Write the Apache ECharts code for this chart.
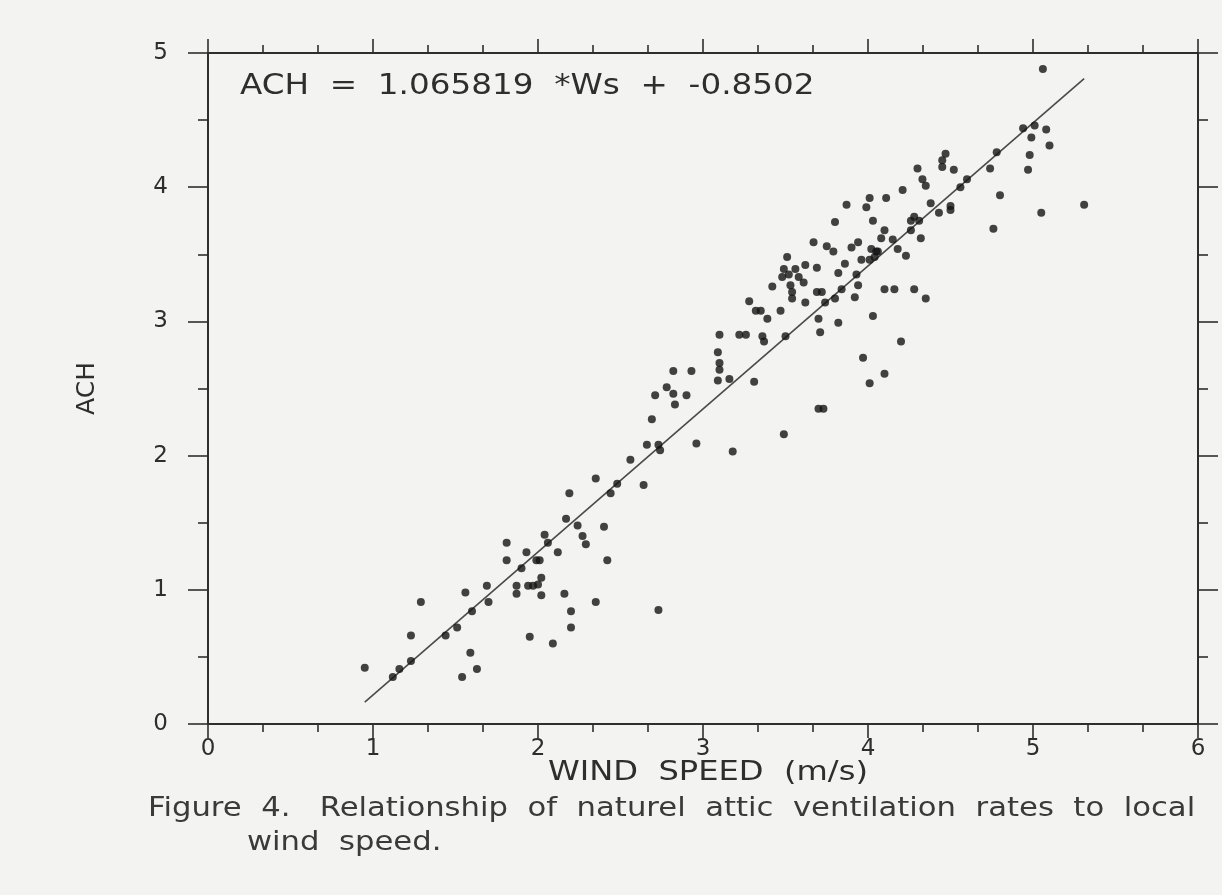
<!DOCTYPE html>
<html>
<head>
<meta charset="utf-8">
<script src="https://cdn.jsdelivr.net/npm/echarts@6/dist/echarts.min.js"></script>
<style>
  html, body { margin: 0; padding: 0; background: #f3f3f1; }
  #chart { width: 1222px; height: 895px; }
</style>
</head>
<body>
<div id="chart"></div>
<script>
// ---- Data ----
const windSpeed = [
  0.95,1.12,1.16,1.23,1.23,1.29,1.44,1.51,1.60,1.56,1.54,1.59,1.63,1.70,1.69,1.81,1.81,1.87,1.87,1.90,
  1.93,1.94,1.97,2.00,2.02,2.02,1.99,2.01,1.95,2.04,2.06,2.12,2.09,2.16,2.20,2.20,2.17,2.19,2.24,2.27,
  2.29,2.35,2.40,2.42,2.44,2.48,2.35,
  2.64,2.56,2.66,2.73,2.74,2.69,2.71,2.78,2.82,2.83,2.90,2.82,2.93,2.96,3.09,3.10,3.10,3.09,3.16,3.10,
  3.22,3.26,3.36,3.37,3.31,3.18,3.49,3.50,3.70,3.73,3.71,3.97,4.01,4.10,4.20,
  4.03,3.82,3.70,3.62,3.74,3.80,3.69,3.72,3.92,3.94,3.84,3.61,3.58,4.10,4.16,4.28,4.35,3.62,3.69,3.82,
  3.86,3.93,3.96,4.01,4.04,4.05,4.02,3.75,3.79,3.67,3.90,3.94,4.06,4.08,4.10,4.15,4.18,4.23,4.32,4.26,
  4.28,4.31,4.26,4.03,3.80,3.87,3.99,4.01,4.11,4.21,4.30,4.33,4.35,4.38,4.43,4.50,4.50,4.45,4.45,4.52,
  4.47,4.56,4.60,4.74,4.80,4.76,4.97,5.05,5.31,
  5.06,4.94,5.01,5.08,4.99,5.10,4.98,4.78,
  3.51,3.49,3.56,3.48,3.52,3.42,3.53,3.54,3.54,3.28,3.32,3.35,3.39,3.47,
  2.73
];
const achValues = [
  0.42,0.35,0.41,0.47,0.66,0.91,0.66,0.72,0.84,0.98,0.35,0.53,0.41,0.91,1.03,1.35,1.22,1.03,0.97,1.16,
  1.28,1.03,1.03,1.04,1.09,0.96,1.22,1.22,0.65,1.41,1.35,1.28,0.60,0.97,0.84,0.72,1.53,1.72,1.48,1.40,
  1.34,0.91,1.47,1.22,1.72,1.79,1.83,
  1.78,1.97,2.08,2.08,2.04,2.27,2.45,2.51,2.46,2.38,2.45,2.63,2.63,2.09,2.77,2.69,2.64,2.56,2.57,2.90,
  2.90,2.90,2.89,2.85,2.55,2.03,2.16,2.89,2.35,2.35,2.92,2.73,2.54,2.61,2.85,
  3.04,2.99,3.02,3.14,3.14,3.17,3.22,3.22,3.18,3.27,3.24,3.29,3.33,3.24,3.24,3.24,3.17,3.42,3.40,3.36,
  3.43,3.35,3.46,3.46,3.48,3.52,3.54,3.56,3.52,3.59,3.55,3.59,3.52,3.62,3.68,3.61,3.54,3.49,3.62,3.75,
  3.78,3.75,3.68,3.75,3.74,3.87,3.85,3.92,3.92,3.98,4.14,4.06,4.01,3.88,3.81,3.86,3.83,4.20,4.15,4.13,
  4.25,4.00,4.06,4.14,3.94,3.69,4.13,3.81,3.87,
  4.88,4.44,4.46,4.43,4.37,4.31,4.24,4.26,
  3.48,3.39,3.39,3.33,3.35,3.26,3.27,3.22,3.17,3.15,3.08,3.08,3.02,3.08,
  0.85
];
const slope = 1.065819;
const intercept = -0.8502;
const xTicks = [0, 1, 2, 3, 4, 5, 6];
const yTicks = [0, 1, 2, 3, 4, 5];
const equationText = 'ACH  =  1.065819  *Ws  +  -0.8502';
const xTitle = 'WIND  SPEED  (m/s)';
const yTitle = 'ACH';
const captionLine1 = 'Figure  4.   Relationship  of  naturel  attic  ventilation  rates  to  local';
const captionLine2 = 'wind  speed.';

// ---- Build ----
const points = windSpeed.map((x, i) => [x, achValues[i]]);
const xMin = Math.min(...windSpeed), xMax = Math.max(...windSpeed);
const fitLine = [[xMin, slope * xMin + intercept], [xMax, slope * xMax + intercept]];

const ink = '#2e2e2e';
const font = 'DejaVu Sans';

function xAxisDef(pos, showLabel) {
  return {
    type: 'value', position: pos, min: xTicks[0], max: xTicks[xTicks.length - 1], interval: 1,
    axisLine: { show: true, onZero: false, lineStyle: { color: ink, width: 2 } },
    axisTick: { show: true, inside: false, length: 14, lineStyle: { color: ink, width: 1.6 } },
    minorTick: { show: true, splitNumber: 3, length: 8, lineStyle: { color: ink, width: 1.6 } },
    splitLine: { show: false }, minorSplitLine: { show: false },
    axisLabel: { show: showLabel, color: ink, fontSize: 23, fontFamily: font, margin: 14 }
  };
}
function yAxisDef(pos, showLabel) {
  return {
    type: 'value', position: pos, min: yTicks[0], max: yTicks[yTicks.length - 1], interval: 1,
    axisLine: { show: true, onZero: false, lineStyle: { color: ink, width: 2 } },
    axisTick: { show: true, inside: false, length: 20, lineStyle: { color: ink, width: 1.6 } },
    minorTick: { show: true, splitNumber: 2, length: 10, lineStyle: { color: ink, width: 1.6 } },
    splitLine: { show: false }, minorSplitLine: { show: false },
    axisLabel: { show: showLabel, color: ink, fontSize: 23, fontFamily: font, margin: 40 },
    name: showLabel ? yTitle : '', nameLocation: 'middle', nameGap: 108, nameRotate: 90,
    nameTextStyle: { color: ink, fontSize: 25, fontFamily: font }
  };
}

const chart = echarts.init(document.getElementById('chart'), null, { renderer: 'canvas' });
chart.setOption({
  backgroundColor: '#f3f3f1',
  animation: false,
  grid: { left: 208, right: 24, top: 53, bottom: 171, containLabel: false },
  xAxis: [xAxisDef('bottom', true), xAxisDef('top', false)],
  yAxis: [yAxisDef('left', true), yAxisDef('right', false)],
  series: [
    {
      type: 'line', data: fitLine, xAxisIndex: 0, yAxisIndex: 0,
      showSymbol: false, symbol: 'none',
      lineStyle: { color: '#4a4a4a', width: 1.6 }, z: 2
    },
    {
      type: 'scatter', data: points, xAxisIndex: 0, yAxisIndex: 0,
      symbol: 'circle', symbolSize: 8,
      itemStyle: { color: '#141414' }, z: 3
    }
  ],
  graphic: [
    { type: 'text', x: 240, y: 73, scaleX: 1.165, style: { text: equationText, fontSize: 28, fontFamily: font, fill: ink } },
    { type: 'text', x: 548, y: 759, scaleX: 1.19, style: { text: xTitle, fontSize: 27, fontFamily: font, fill: ink } },
    { type: 'text', x: 148, y: 796, scaleX: 1.18, style: { text: captionLine1, fontSize: 26, fontFamily: font, fill: '#3a3a3a' } },
    { type: 'text', x: 247, y: 830, scaleX: 1.18, style: { text: captionLine2, fontSize: 26, fontFamily: font, fill: '#3a3a3a' } }
  ]
});
</script>
</body>
</html>
